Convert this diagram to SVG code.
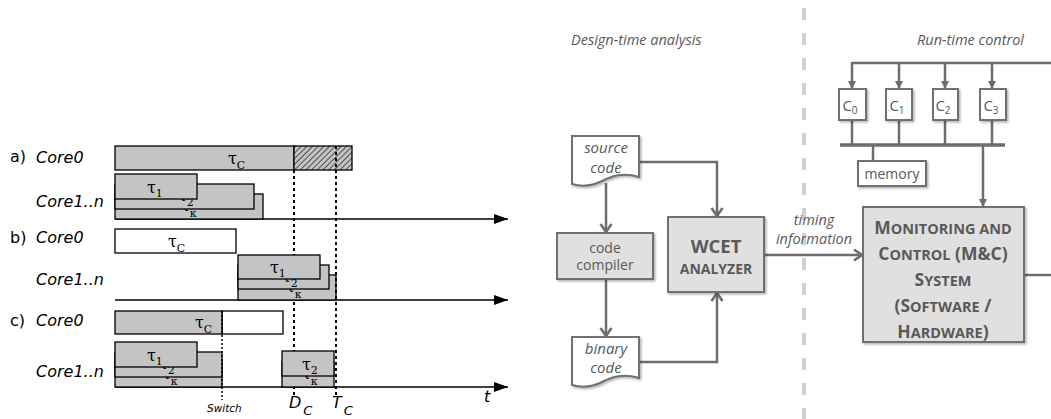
<svg xmlns="http://www.w3.org/2000/svg" width="1051" height="419" viewBox="0 0 1051 419">
<style>
.lbl{font-family:"DejaVu Sans",sans-serif;font-size:16px;fill:#000}
.it{font-style:italic}
.tau{font-family:"DejaVu Serif",serif;font-size:16px;fill:#000}
.sub{font-size:11px}
.task{fill:#c4c4c4;stroke:#000;stroke-width:1.3}
.idle{fill:#fff;stroke:#000;stroke-width:1.3}
.axis{stroke:#000;stroke-width:1.3;fill:none;marker-end:url(#ax)}
.due{stroke:#000;stroke-width:2;stroke-dasharray:3 3;fill:none}
.sw{stroke:#000;stroke-width:1.5;stroke-dasharray:2 2;fill:none}
.rbox{fill:#e0e0e0;stroke:#707070;stroke-width:2;filter:url(#shade)}
.rdoc{fill:#fff;stroke:#707070;stroke-width:2;filter:url(#shade)}
.wire{stroke:#6d6d6d;stroke-width:2.5;fill:none}
.rt{font-family:"Open Sans",sans-serif;fill:#595959}
.sep{stroke:#d0d0d0;stroke-width:4;stroke-dasharray:12 13;fill:none}
</style>
<defs>
<filter id="shade" x="-10%" y="-10%" width="130%" height="130%"><feDropShadow dx="1.5" dy="1.5" stdDeviation="1.2" flood-color="#000" flood-opacity="0.3"/></filter>
<marker id="ax" viewBox="0 0 14 10" refX="14" refY="5" markerWidth="14" markerHeight="10" orient="auto" markerUnits="userSpaceOnUse"><path d="M0,0 L14,5 L0,10 Z" fill="#000"/></marker>
<marker id="chev" viewBox="0 0 14 14" refX="11" refY="7" markerWidth="14" markerHeight="14" orient="auto" markerUnits="userSpaceOnUse"><path d="M3,1.5 L11,7 L3,12.5" fill="none" stroke="#6d6d6d" stroke-width="2.6"/></marker>
<marker id="tri" viewBox="0 0 8 8" refX="8" refY="4" markerWidth="8" markerHeight="8" orient="auto" markerUnits="userSpaceOnUse"><path d="M0,0 L8,4 L0,8 Z" fill="#6d6d6d"/></marker>
<pattern id="hatch" patternUnits="userSpaceOnUse" width="4" height="4" patternTransform="rotate(45)"><rect width="4" height="4" fill="#c4c4c4"/><line x1="0" y1="0" x2="0" y2="4" stroke="#000" stroke-width="1.2"/></pattern>
</defs>

<!-- ===== schedule timelines ===== -->
<g id="row-labels">
<text class="lbl" x="10" y="162">a)</text><text class="lbl it" x="36" y="163">Core0</text>
<text class="lbl it" x="36" y="207">Core1..n</text>
<text class="lbl" x="10" y="243">b)</text><text class="lbl it" x="36" y="243">Core0</text>
<text class="lbl it" x="36" y="285">Core1..n</text>
<text class="lbl" x="10" y="326">c)</text><text class="lbl it" x="36" y="326">Core0</text>
<text class="lbl it" x="36" y="377">Core1..n</text>
</g>

<g id="axes">
<line class="axis" x1="115" y1="219" x2="508" y2="219"/>
<line class="axis" x1="115" y1="300" x2="508" y2="300"/>
<line class="axis" x1="115" y1="387" x2="508" y2="387"/>
</g>

<g id="deadline">
<line class="due" x1="294" y1="170" x2="294" y2="396"/>
</g>

<g id="case-a">
<rect class="task" x="115" y="146" width="179" height="24"/>
<rect x="294" y="146" width="58" height="24" fill="url(#hatch)" stroke="#000" stroke-width="1.3"/>
<text class="tau" x="228" y="164">τ<tspan class="sub" dy="5">C</tspan></text>
<rect class="task" x="115" y="194" width="148" height="25"/>
<text class="tau" x="181" y="211">τ<tspan class="sub" dy="6">κ</tspan></text>
<rect class="task" x="115" y="184" width="139" height="25"/>
<text class="tau" x="178" y="201">τ<tspan class="sub" dy="5">2</tspan></text>
<rect class="task" x="115" y="174" width="82" height="25"/>
<text class="tau" x="147" y="193">τ<tspan class="sub" dy="4">1</tspan></text>
</g>

<g id="case-b">
<rect class="idle" x="115" y="229" width="121" height="24"/>
<text class="tau" x="168" y="247">τ<tspan class="sub" dy="5">C</tspan></text>
<rect class="task" x="238" y="275" width="98" height="25"/>
<text class="tau" x="286" y="292">τ<tspan class="sub" dy="6">κ</tspan></text>
<rect class="task" x="238" y="265" width="91" height="24"/>
<text class="tau" x="282" y="282">τ<tspan class="sub" dy="5">2</tspan></text>
<rect class="task" x="238" y="255" width="82" height="24"/>
<text class="tau" x="270" y="273">τ<tspan class="sub" dy="4">1</tspan></text>
</g>

<g id="case-c">
<rect class="idle" x="222" y="311" width="61" height="23"/>
<rect class="task" x="115" y="311" width="107" height="23"/>
<text class="tau" x="195" y="328">τ<tspan class="sub" dy="5">C</tspan></text>
<rect class="task" x="115" y="362" width="107" height="25"/>
<text class="tau" x="162" y="379">τ<tspan class="sub" dy="6">κ</tspan></text>
<rect class="task" x="115" y="352" width="107" height="25"/>
<text class="tau" x="159" y="369">τ<tspan class="sub" dy="5">2</tspan></text>
<rect class="task" x="115" y="342" width="82" height="25"/>
<text class="tau" x="147" y="361">τ<tspan class="sub" dy="4">1</tspan></text>
<rect class="task" x="282" y="362" width="52" height="25"/>
<text class="tau" x="302" y="379">τ<tspan class="sub" dy="6">κ</tspan></text>
<rect class="task" x="282" y="351" width="52" height="25"/>
<text class="tau" x="302" y="370">τ<tspan class="sub" dy="4">2</tspan></text>
<line class="sw" x1="222" y1="311" x2="222" y2="400"/>
</g>

<g id="period">
<line class="due" x1="336" y1="146" x2="336" y2="396"/>
</g>

<g id="time-labels">
<text class="lbl it" x="207" y="412" style="font-size:10.5px">Switch</text>
<text class="lbl it" x="289" y="408">D<tspan font-size="13" dx="2" dy="7">C</tspan></text>
<text class="lbl it" x="332" y="408">T<tspan font-size="13" dx="2" dy="7">C</tspan></text>
<text class="lbl it" x="484" y="402">t</text>
</g>

<!-- ===== design-time / run-time flow ===== -->
<line class="sep" x1="804" y1="8" x2="804" y2="419"/>

<text class="rt" x="571" y="45" font-style="italic" font-size="14.5">Design-time analysis</text>
<text class="rt" x="917" y="45" font-style="italic" font-size="14.5">Run-time control</text>

<g id="connectors">
<path class="wire" d="M639,162 H717 V216" marker-end="url(#chev)"/>
<path class="wire" d="M606,183 V232" marker-end="url(#chev)"/>
<path class="wire" d="M606,279 V336" marker-end="url(#chev)"/>
<path class="wire" d="M639,362 H717 V293" marker-end="url(#chev)"/>
<path class="wire" d="M764,255 H862" marker-end="url(#chev)"/>
<path class="wire" d="M1024,275 H1051"/>
<path class="wire" d="M1051,63 H852"/>
<path class="wire" d="M852,62 V89" marker-end="url(#tri)"/>
<path class="wire" d="M899,63 V89" marker-end="url(#tri)"/>
<path class="wire" d="M945,63 V89" marker-end="url(#tri)"/>
<path class="wire" d="M992,63 V89" marker-end="url(#tri)"/>
<path class="wire" d="M852,120 V145 M899,120 V145 M945,120 V145 M992,120 V145"/>
<path d="M840,145 H1005" stroke="#6d6d6d" stroke-width="3.5"/>
<path class="wire" d="M873,145 V161"/>
<path class="wire" d="M983,145 V207" marker-end="url(#tri)"/>
<text class="rt" x="814" y="225" text-anchor="middle" font-style="italic" font-size="14.5">timing</text>
<text class="rt" x="814" y="244" text-anchor="middle" font-style="italic" font-size="14.5">information</text>
</g>

<g id="source-code">
<path class="rdoc" d="M572,136 H639 V177 C623,172 612,176 602,181 C592,186 582,187 572,184 Z"/>
<text class="rt" x="606" y="153" text-anchor="middle" font-style="italic" font-size="15">source</text>
<text class="rt" x="606" y="173" text-anchor="middle" font-style="italic" font-size="15">code</text>
</g>

<g id="code-compiler">
<rect class="rbox" x="557" y="233" width="96" height="46"/>
<text class="rt" x="605" y="253" text-anchor="middle" font-size="14">code</text>
<text class="rt" x="605" y="270" text-anchor="middle" font-size="14">compiler</text>
</g>

<g id="binary-code">
<path class="rdoc" d="M572,337 H639 V378 C623,373 612,377 602,382 C592,387 582,388 572,385 Z"/>
<text class="rt" x="606" y="354" text-anchor="middle" font-style="italic" font-size="15">binary</text>
<text class="rt" x="606" y="373" text-anchor="middle" font-style="italic" font-size="15">code</text>
</g>

<g id="wcet-analyzer">
<rect class="rbox" x="668" y="217" width="96" height="75"/>
<text class="rt" x="716" y="253" text-anchor="middle" font-size="18.5" font-weight="bold">WCET</text>
<text class="rt" x="716" y="274" text-anchor="middle" font-size="14" font-weight="bold">ANALYZER</text>
</g>

<g id="cores">
<rect class="rdoc" x="839" y="89" width="27" height="31"/>
<text class="rt" x="850" y="111" text-anchor="middle" font-size="15">C<tspan font-size="10" dy="3">0</tspan></text>
<rect class="rdoc" x="886" y="89" width="26" height="31"/>
<text class="rt" x="897" y="111" text-anchor="middle" font-size="15">C<tspan font-size="10" dy="3">1</tspan></text>
<rect class="rdoc" x="933" y="89" width="25" height="31"/>
<text class="rt" x="943" y="111" text-anchor="middle" font-size="15">C<tspan font-size="10" dy="3">2</tspan></text>
<rect class="rdoc" x="980" y="89" width="26" height="31"/>
<text class="rt" x="991" y="111" text-anchor="middle" font-size="15">C<tspan font-size="10" dy="3">3</tspan></text>
</g>

<g id="memory">
<rect class="rdoc" x="858" y="161" width="68" height="25"/>
<text class="rt" x="892" y="179" text-anchor="middle" font-size="14">memory</text>
</g>

<g id="mc-system">
<rect class="rbox" x="863" y="207" width="161" height="135"/>
<g class="rt" font-weight="bold" text-anchor="middle">
<text x="943" y="234" font-size="17.5">M<tspan font-size="14.5">ONITORING AND</tspan></text>
<text x="943" y="260" font-size="17.5">C<tspan font-size="14.5">ONTROL</tspan> (M&amp;C)</text>
<text x="943" y="286" font-size="17.5">S<tspan font-size="14.5">YSTEM</tspan></text>
<text x="943" y="312" font-size="17.5">(S<tspan font-size="14.5">OFTWARE</tspan> /</text>
<text x="943" y="338" font-size="17.5">H<tspan font-size="14.5">ARDWARE</tspan>)</text>
</g>
</g>
</svg>
